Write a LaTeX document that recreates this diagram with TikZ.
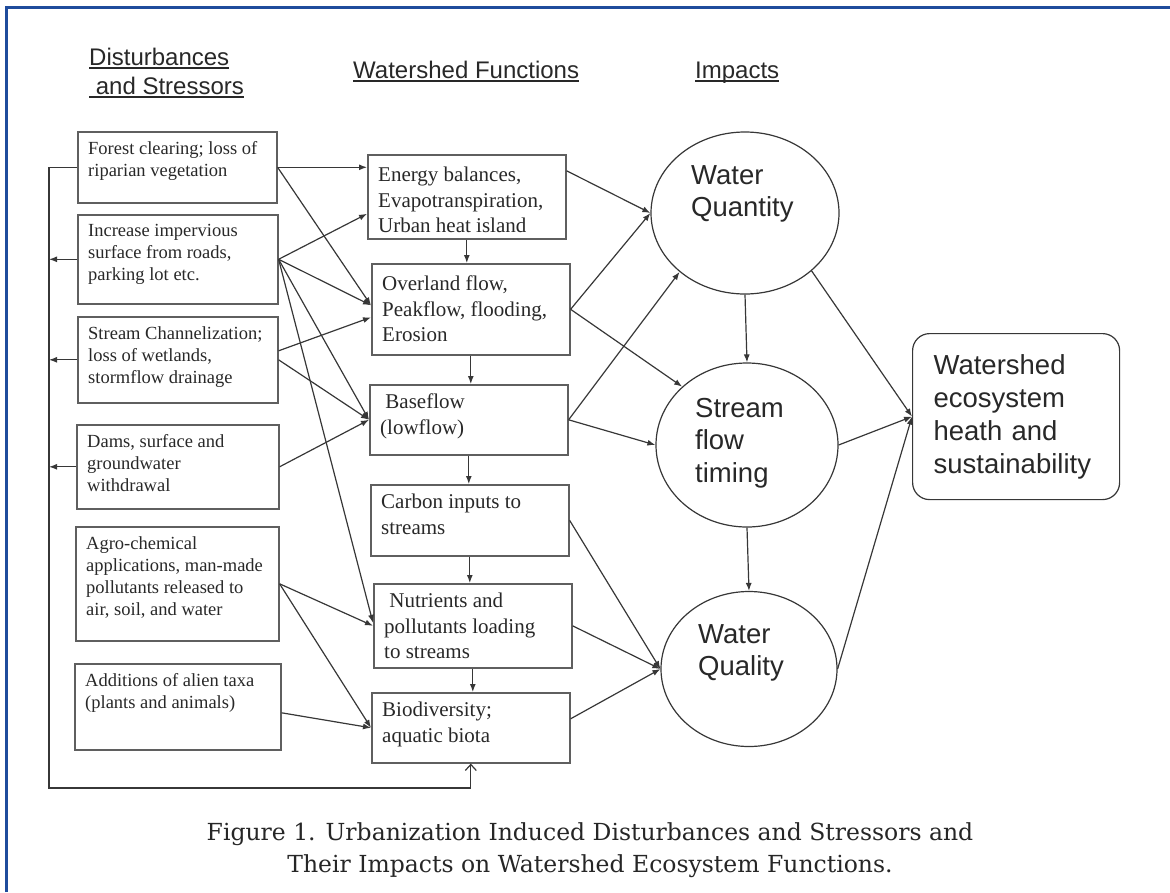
\documentclass[tikz,border=0pt]{standalone}
\usepackage{fontspec}
\setmainfont{Liberation Serif}
\setsansfont{Liberation Sans}
\newfontfamily\capfont{DejaVu Serif}
\usepackage{tikz}
\usetikzlibrary{shapes.geometric, arrows.meta}
\usetikzlibrary{positioning,calc}

\definecolor{frameblue}{RGB}{31,76,156}
\definecolor{linegray}{RGB}{55,55,55}
\definecolor{boxgray}{RGB}{95,95,95}
\definecolor{textgray}{RGB}{40,40,40}

\begin{document}
\begin{tikzpicture}[
  x=1pt, y=-1pt,
  header/.style={font=\sffamily\fontsize{24}{28}\selectfont, text=textgray, inner sep=0pt, anchor=base west},
  underl/.style={draw=textgray, line width=1.3pt},
  conn/.style={draw=linegray, line width=1.2pt, -{Latex[length=8pt,width=6pt]}},
  stressortext/.style={anchor=north west, align=left, inner xsep=11pt, inner ysep=10pt, font=\fontsize{18.5}{22.2}\selectfont, text=textgray},
  functext/.style={anchor=north west, align=left, inner xsep=11pt, inner ysep=13pt, font=\fontsize{21}{25.5}\selectfont, text=textgray}
]
	\useasboundingbox (0,0) rectangle (1170,892);

	\tikzstyle{stressor} = [rectangle, draw=boxgray, line width=1.6pt, anchor=north west]
	\tikzstyle{wsfunction} = [rectangle, draw=boxgray, line width=1.6pt, anchor=north west, minimum width=198pt]
	\tikzstyle{impact} = [ellipse, draw=linegray, line width=1.2pt]
	\tikzstyle{impacttext} = [anchor=west, align=left, inner sep=0pt, font=\sffamily\fontsize{27.5}{32.5}\selectfont, text=textgray]
	\tikzstyle{outcome} = [rectangle, rounded corners=17pt, draw=linegray, line width=1.2pt, anchor=north west, minimum height=166pt, text width=165pt, inner xsep=21pt, align=left, font=\sffamily\fontsize{27.5}{33}\selectfont, text=textgray]

	% page frame
	\coordinate (frameTL) at (6,7);
	\draw[frameblue, line width=3pt] (6,892) -- (frameTL) -- (1170,7);

	% column headers
	\node (hdDist) [header] at (89,65) {Disturbances};
	\node (hdStress) [header] at (89,94) {\ and Stressors};
	\node (hdFunc) [header] at (353,78) {Watershed Functions};
	\node (hdImp) [header] at (695,78) {Impacts};
	\draw[underl] ([yshift=-3pt]hdDist.base west) -- ([yshift=-3pt]hdDist.base east);
	\draw[underl] ([yshift=-3pt]hdStress.base west) -- ([yshift=-3pt]hdStress.base east);
	\draw[underl] ([yshift=-3pt]hdFunc.base west) -- ([yshift=-3pt]hdFunc.base east);
	\draw[underl] ([yshift=-3pt]hdImp.base west) -- ([yshift=-3pt]hdImp.base east);

	% disturbances and stressors
	\node (forest) [stressor, minimum width=199pt, minimum height=71pt, label={[stressortext]north west:{Forest clearing; loss of\\riparian vegetation}}] at (77,131) {};
	\node (impervious) [stressor, minimum width=200pt, minimum height=89pt, label={[stressortext]north west:{Increase impervious\\surface from roads,\\parking lot etc.}}] at (77,214) {};
	\node (channel) [stressor, minimum width=200pt, minimum height=86pt, label={[stressortext]north west:{Stream Channelization;\\loss of wetlands,\\stormflow drainage}}] at (77,316) {};
	\node (dams) [stressor, minimum width=202pt, minimum height=84pt, label={[stressortext]north west:{Dams, surface and\\groundwater\\withdrawal}}] at (76,424) {};
	\node (agro) [stressor, minimum width=203pt, minimum height=114pt, label={[stressortext]north west:{Agro-chemical\\applications, man-made\\pollutants released to\\air, soil, and water}}] at (75,526) {};
	\node (alien) [stressor, minimum width=206pt, minimum height=86pt, label={[stressortext]north west:{Additions of alien taxa\\(plants and animals)}}] at (74,663) {};

	% watershed functions
	\node (energy) [wsfunction, minimum height=84pt, label={[functext]north west:{Energy balances,\\Evapotranspiration,\\Urban heat island}}] at (367,154) {};
	\node (overland) [wsfunction, minimum height=91pt, label={[functext]north west:{Overland flow,\\Peakflow, flooding,\\Erosion}}] at (371,263) {};
	\node (baseflow) [wsfunction, minimum height=70pt, label={[functext, inner ysep=10pt]north west:{\ Baseflow\\(lowflow)}}] at (369,384) {};
	\node (carbon) [wsfunction, minimum height=71pt, label={[functext, inner ysep=10pt]north west:{Carbon inputs to\\streams}}] at (370,484) {};
	\node (nutrients) [wsfunction, minimum height=84pt, label={[functext, inner ysep=10pt]north west:{\ Nutrients and\\pollutants loading\\to streams}}] at (373,583) {};
	\node (biodiv) [wsfunction, minimum height=70pt, label={[functext, inner ysep=10pt]north west:{Biodiversity;\\aquatic biota}}] at (371,692) {};

	% impacts
	\node (quantity) [impact, minimum width=188pt, minimum height=162pt] at (745,213) {};
	\node (quantityText) [impacttext] at (691,194) {Water\\Quantity};
	\node (streamflow) [impact, minimum width=182pt, minimum height=164pt] at (747,445) {};
	\node (streamflowText) [impacttext] at (695,443) {Stream\\flow\\timing};
	\node (quality) [impact, minimum width=176pt, minimum height=155pt] at (749,669) {};
	\node (qualityText) [impacttext] at (698,653) {Water\\Quality};

	\node (ecosystem) [outcome] at (912,333) {Watershed\\ecosystem\\heath and\\sustainability};

	% stressors -> functions
	\draw[conn] (forest.east) -- (forest.east -| energy.west);
	\draw[conn] (forest.east) -- ([yshift=4pt]overland.west);
	\draw[conn] (impervious.east) -- ([yshift=-17pt]energy.west);
	\draw[conn] (impervious.east) -- ([yshift=4pt]overland.west);
	\draw[conn] (impervious.east) -- (baseflow.west);
	\draw[conn] (impervious.east) -- ([yshift=3pt]nutrients.west);
	\draw[conn] ([yshift=9pt]channel.east) -- ([yshift=-8pt]overland.west);
	\draw[conn] (channel.east) -- (baseflow.west);
	\draw[conn] (dams.east) -- (baseflow.west);
	\draw[conn] (agro.east) -- (nutrients.west);
	\draw[conn] (agro.east) -- (biodiv.west);
	\draw[conn] ([yshift=-6pt]alien.east) -- (biodiv.west);

	% feedback to the left
	\coordinate (loopTop) at (49,166);
	\coordinate (loopBottom) at (49,788);
	\draw[draw=linegray, line width=1.2pt, -{Straight Barb[length=6pt,width=11pt]}] (forest.west) -- (forest.west -| loopTop) -- (loopBottom) -- (loopBottom -| biodiv.south) -- (biodiv.south);
	\draw[conn] (impervious.west) -- (impervious.west -| loopTop);
	\draw[conn] (channel.west) -- (channel.west -| loopTop);
	\draw[conn] (dams.west) -- (dams.west -| loopTop);

	% down the functions column
	\draw[conn] (energy.south) -- (energy.south |- overland.north);
	\draw[conn] (overland.south) -- (overland.south |- baseflow.north);
	\draw[conn] (baseflow.south) -- (baseflow.south |- carbon.north);
	\draw[conn] (carbon.south) -- (carbon.south |- nutrients.north);
	\draw[conn] (nutrients.south) -- (nutrients.south |- biodiv.north);

	% functions -> impacts
	\draw[conn] ([yshift=26pt]energy.east) -- (quantity.west);
	\draw[conn] (overland.east) -- (quantity.west);
	\draw[conn] (overland.east) -- (streamflow.138);
	\draw[conn] (baseflow.east) -- (quantity.222);
	\draw[conn] (baseflow.east) -- (streamflow.west);
	\draw[conn] (carbon.east) -- (quality.west);
	\draw[conn] (nutrients.east) -- (quality.west);
	\draw[conn] ([yshift=9pt]biodiv.east) -- (quality.west);

	% impacts -> ecosystem
	\draw[conn] (quantity.south) -- (streamflow.north);
	\draw[conn] (streamflow.south) -- (quality.north);
	\draw[conn] (quantity.319) -- (ecosystem.west);
	\draw[conn] (streamflow.east) -- (ecosystem.west);
	\draw[conn] (quality.east) -- (ecosystem.west);

	\node (caption) [font=\capfont\fontsize{23.5}{32}\selectfont, text=black!85, align=center] at (590,850) {Figure 1. Urbanization Induced Disturbances and Stressors and\\Their Impacts on Watershed Ecosystem Functions.};

\end{tikzpicture}
\end{document}
